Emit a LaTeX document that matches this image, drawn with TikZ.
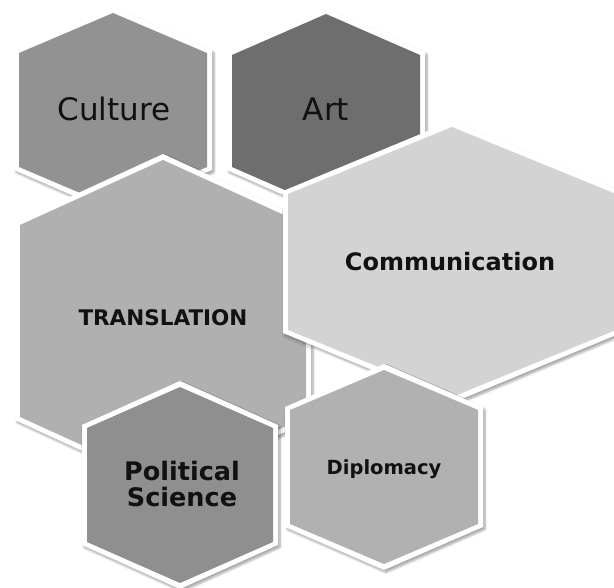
\documentclass[tikz,border=0pt]{standalone}
\usepackage{fontspec}
\setmainfont{DejaVu Sans}
\usetikzlibrary{shadows.blur}

\definecolor{cultgray}{RGB}{146,146,146}
\definecolor{artgray}{RGB}{110,110,110}
\definecolor{transgray}{RGB}{176,176,176}
\definecolor{commgray}{RGB}{211,211,211}
\definecolor{polgray}{RGB}{143,143,143}
\definecolor{diplgray}{RGB}{177,177,177}
\definecolor{labelink}{RGB}{17,17,17}

% hexagon cell: centre x, centre y, half width, half side, tip, fill
\newcommand{\hexcell}[6]{%
  \fill[white, blur shadow={shadow xshift=2pt, shadow yshift=-2.5pt,
      shadow opacity=35, shadow blur steps=6}]
    (#1,#2-#4-#5-6) -- (#1+#3+5,#2-#4-3) -- (#1+#3+5,#2+#4+3)
    -- (#1,#2+#4+#5+6) -- (#1-#3-5,#2+#4+3) -- (#1-#3-5,#2-#4-3) -- cycle;
  \fill[#6]
    (#1,#2-#4-#5) -- (#1+#3,#2-#4) -- (#1+#3,#2+#4)
    -- (#1,#2+#4+#5) -- (#1-#3,#2+#4) -- (#1-#3,#2-#4) -- cycle;
}

\begin{document}
\begin{tikzpicture}[x=1pt,y=-1pt]
    \useasboundingbox (0,0) rectangle (614,588);
    \hexcell{113}{110}{94}{57}{40}{cultgray}
    \hexcell{326}{111}{94}{56}{41}{artgray}
    \hexcell{163}{321}{143}{96}{65}{transgray}
    \hexcell{452}{262}{164}{68}{67}{commgray}
    \hexcell{180}{485}{93}{57}{41}{polgray}
    \hexcell{384}{467}{94}{57}{40}{diplgray}
    \begin{scope}[every node/.style={text=labelink,align=center,inner sep=0pt}]
      \node[font=\fontsize{31}{36}\selectfont] (culture) at (114,109) {Culture};
      \node[font=\fontsize{31}{36}\selectfont] (art) at (326,109) {Art};
      \node[font=\bfseries\fontsize{21.5}{24}\selectfont] (transl) at (163,318) {TRANSLATION};
      \node[font=\bfseries\fontsize{24}{28}\selectfont] (comm) at (450,262) {Communication};
      \node[font=\bfseries\fontsize{25.5}{26}\selectfont] (polsci) at (182,484) {Political\\Science};
      \node[font=\bfseries\fontsize{19.5}{22}\selectfont] (dipl) at (384,469) {Diplomacy};
    \end{scope}
\end{tikzpicture}
\end{document}
